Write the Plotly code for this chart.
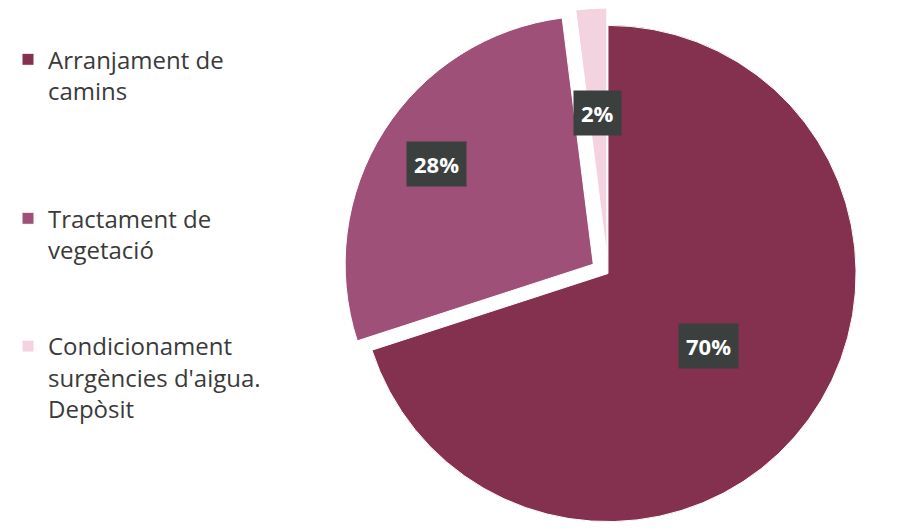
import math
import plotly.graph_objects as go

categories = ["Arranjament de<br>camins", "Tractament de<br>vegetació",
              "Condicionament<br>surgències d'aigua.<br>Depòsit"]
values = [70, 28, 2]
colors = ["#84304F", "#9E5078", "#F3D3E0"]
pulls = [0, 0.07, 0.07]

W, H = 909, 531
dom_x = [0.32, 1.0]
dom_y = [0.0, 1.0]

# legend padding lines to spread entries like the reference
pad = ["<br> <br> <br> ", "<br> <br> ", ""]
legend_labels = [c + p for c, p in zip(categories, pad)]

fig = go.Figure(go.Pie(
    labels=legend_labels,
    values=values,
    marker=dict(colors=colors, line=dict(color="white", width=1)),
    sort=False,
    direction="clockwise",
    rotation=0,
    pull=pulls,
    textinfo="none",
    hoverinfo="label+percent",
    domain=dict(x=dom_x, y=dom_y),
))

# label boxes placed from the data through pie geometry
dw = (dom_x[1] - dom_x[0]) * W
dh = (dom_y[1] - dom_y[0]) * H
cx = dom_x[0] * W + dw / 2
cy = dom_y[0] * H + dh / 2
R = min(dw, dh) / (2 + 2 * max(pulls))
total = sum(values)
acc = 0
label_r = [0.5, 0.75, 0.58]
annotations = []
for v, p, lr in zip(values, pulls, label_r):
    mid = (acc + v / 2) / total * 2 * math.pi
    acc += v
    r = R * (lr + p)
    x = cx + r * math.sin(mid)
    y = cy + r * math.cos(mid)
    annotations.append(dict(
        x=x / W, y=y / H, xref="paper", yref="paper",
        xanchor="center", yanchor="middle",
        text="<b>%d%%</b>" % round(v / total * 100),
        showarrow=False,
        font=dict(color="white", size=22, family="Open Sans"),
        bgcolor="#3B403F", borderpad=7,
    ))

fig.update_layout(
    width=W, height=H,
    margin=dict(l=0, r=0, t=0, b=0),
    paper_bgcolor="white",
    font=dict(family="Open Sans", color="#3a3a3a"),
    legend=dict(x=0.0, y=0.945, xanchor="left", yanchor="top",
                valign="top", font=dict(size=24, color="#3a3a3a"),
                itemwidth=30),
    annotations=annotations,
)

fig.write_html("out.html")
